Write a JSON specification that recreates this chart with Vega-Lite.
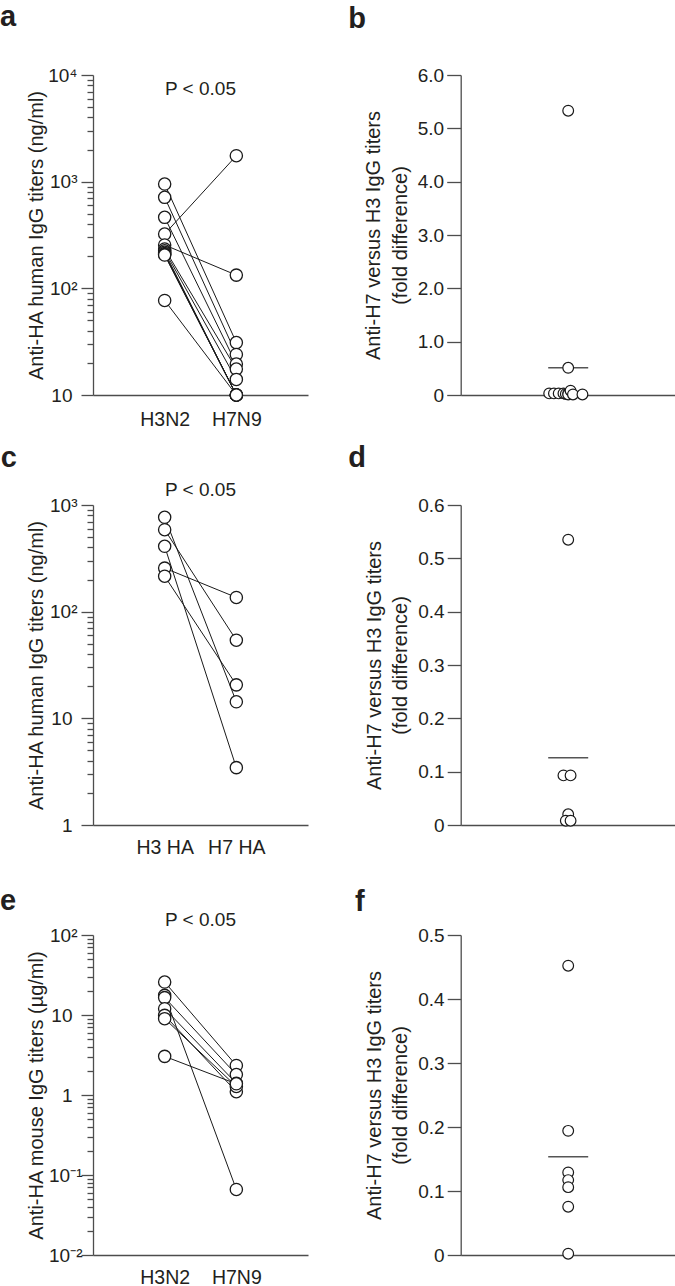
{
  "$schema": "https://vega.github.io/schema/vega-lite/v6.json",
  "padding": {"left": 0, "top": 2, "right": 0, "bottom": 0},
  "background": "white",
  "config": {
    "font": "Liberation Sans",
    "view": {"stroke": null},
    "axis": {
      "labelFont": "Liberation Sans", "titleFont": "Liberation Sans",
      "labelFontSize": 19, "titleFontSize": 20, "titleFontWeight": "normal",
      "labelColor": "#231f20", "titleColor": "#231f20",
      "domainColor": "#4d4d4d", "tickColor": "#4d4d4d",
      "domainWidth": 1.3, "tickWidth": 1.3, "grid": false,
      "labelOverlap": false, "labelBound": false, "labelFlush": false
    },
    "title": {"fontSize": 29, "fontWeight": "bold", "anchor": "start", "frame": "group", "baseline": "alphabetic", "color": "#231f20", "font": "Liberation Sans"}
  },
  "columns": 2,
  "spacing": {"row": 110, "column": 152.7},
  "bounds": "flush",
  "datasets": {
    "A": [
      {"s": 1, "g": "H3N2", "v": 950}, {"s": 1, "g": "H7N9", "v": 31},
      {"s": 2, "g": "H3N2", "v": 713}, {"s": 2, "g": "H7N9", "v": 24},
      {"s": 3, "g": "H3N2", "v": 463}, {"s": 3, "g": "H7N9", "v": 19.5},
      {"s": 4, "g": "H3N2", "v": 323}, {"s": 4, "g": "H7N9", "v": 1750},
      {"s": 5, "g": "H3N2", "v": 255}, {"s": 5, "g": "H7N9", "v": 133},
      {"s": 6, "g": "H3N2", "v": 234}, {"s": 6, "g": "H7N9", "v": 17.5},
      {"s": 7, "g": "H3N2", "v": 225}, {"s": 7, "g": "H7N9", "v": 14},
      {"s": 8, "g": "H3N2", "v": 218}, {"s": 8, "g": "H7N9", "v": 10},
      {"s": 9, "g": "H3N2", "v": 212}, {"s": 9, "g": "H7N9", "v": 10},
      {"s": 10, "g": "H3N2", "v": 208}, {"s": 10, "g": "H7N9", "v": 10},
      {"s": 11, "g": "H3N2", "v": 205}, {"s": 11, "g": "H7N9", "v": 10},
      {"s": 12, "g": "H3N2", "v": 77}, {"s": 12, "g": "H7N9", "v": 10}
    ],
    "PA": [{"g": "", "v": 6500, "t": "P < 0.05"}],
    "B": [
      {"g": "r", "v": 5.33, "j": 0}, {"g": "r", "v": 0.51, "j": 0},
      {"g": "r", "v": 0.03, "j": -8}, {"g": "r", "v": 0.03, "j": -6},
      {"g": "r", "v": 0.03, "j": -4}, {"g": "r", "v": 0.03, "j": -2},
      {"g": "r", "v": 0.02, "j": -1}, {"g": "r", "v": 0.03, "j": 0},
      {"g": "r", "v": 0.01, "j": 0}, {"g": "r", "v": 0.08, "j": 1},
      {"g": "r", "v": 0.01, "j": 2}, {"g": "r", "v": 0.01, "j": 6}
    ],
    "C": [
      {"s": 1, "g": "H3 HA", "v": 767}, {"s": 1, "g": "H7 HA", "v": 14.3},
      {"s": 2, "g": "H3 HA", "v": 587}, {"s": 2, "g": "H7 HA", "v": 54},
      {"s": 3, "g": "H3 HA", "v": 410}, {"s": 3, "g": "H7 HA", "v": 3.45},
      {"s": 4, "g": "H3 HA", "v": 256}, {"s": 4, "g": "H7 HA", "v": 136},
      {"s": 5, "g": "H3 HA", "v": 215}, {"s": 5, "g": "H7 HA", "v": 20.6}
    ],
    "PC": [{"g": "", "v": 1222, "t": "P < 0.05"}],
    "D": [
      {"g": "r", "v": 0.535, "j": 0}, {"g": "r", "v": 0.093, "j": -2},
      {"g": "r", "v": 0.093, "j": 1}, {"g": "r", "v": 0.02, "j": 0},
      {"g": "r", "v": 0.008, "j": -1}, {"g": "r", "v": 0.008, "j": 1}
    ],
    "E": [
      {"s": 1, "g": "H3N2", "v": 25.8}, {"s": 1, "g": "H7N9", "v": 2.34},
      {"s": 2, "g": "H3N2", "v": 17.6}, {"s": 2, "g": "H7N9", "v": 0.066},
      {"s": 3, "g": "H3N2", "v": 16.5}, {"s": 3, "g": "H7N9", "v": 1.8},
      {"s": 4, "g": "H3N2", "v": 12.0}, {"s": 4, "g": "H7N9", "v": 1.4},
      {"s": 5, "g": "H3N2", "v": 9.9}, {"s": 5, "g": "H7N9", "v": 1.1},
      {"s": 6, "g": "H3N2", "v": 9.0}, {"s": 6, "g": "H7N9", "v": 1.28},
      {"s": 7, "g": "H3N2", "v": 3.04}, {"s": 7, "g": "H7N9", "v": 1.38}
    ],
    "PE": [{"g": "", "v": 128, "t": "P < 0.05"}],
    "F": [
      {"g": "r", "v": 0.452, "j": 0}, {"g": "r", "v": 0.194, "j": 0},
      {"g": "r", "v": 0.129, "j": 0}, {"g": "r", "v": 0.117, "j": 0},
      {"g": "r", "v": 0.106, "j": 0}, {"g": "r", "v": 0.0755, "j": 0},
      {"g": "r", "v": 0.002, "j": 0}
    ]
  },
  "concat": [
    {
      "width": 215, "height": 320,
      "title": {"text": "a", "dx": -93, "offset": 34.5},
      "layer": [
        {
          "data": {"name": "A"},
          "mark": {"type": "line", "color": "#1a1a1a", "strokeWidth": 1},
          "encoding": {
            "x": {"field": "g", "type": "nominal", "scale": {"type": "point", "domain": [" ", "H3N2", "", "H7N9", "  "], "padding": 1},
                  "axis": {"values": ["H3N2", "H7N9"], "ticks": false, "labelPadding": 15, "title": null, "labelFontSize": 19.5, "labelAngle": 0}},
            "y": {"field": "v", "type": "quantitative", "scale": {"type": "log", "domain": [10, 10000], "nice": false},
                  "axis": {"values": [10,20,30,40,50,60,70,80,90,100,200,300,400,500,600,700,800,900,1000,2000,3000,4000,5000,6000,7000,8000,9000,10000],
                           "labelExpr": "datum.value == 10 ? '10' : datum.value == 100 ? '10²' : datum.value == 1000 ? '10³' : datum.value == 10000 ? '10⁴' : ''",
                           "tickSize": {"condition": {"test": "abs(log(datum.value)/LN10 - round(log(datum.value)/LN10)) < 0.000001", "value": 12}, "value": 6},
                           "labelPadding": {"condition": {"test": "datum.value > 50", "value": 4}, "value": 9},
                           "titleX": -47,
                           "title": "Anti-HA human IgG titers (ng/ml)"}},
            "detail": {"field": "s"}
          }
        },
        {
          "data": {"name": "A"},
          "mark": {"type": "circle", "fill": "white", "stroke": "#1a1a1a", "strokeWidth": 1.3, "size": 150, "opacity": 1},
          "encoding": {"x": {"field": "g", "type": "nominal"}, "y": {"field": "v", "type": "quantitative"}}
        },
        {
          "data": {"name": "PA"},
          "mark": {"type": "text", "fontSize": 19, "color": "#231f20", "baseline": "alphabetic", "align": "center"},
          "encoding": {"x": {"field": "g", "type": "nominal"}, "y": {"field": "v", "type": "quantitative"}, "text": {"field": "t"}}
        }
      ]
    },
    {
      "width": 215, "height": 320,
      "title": {"text": "b", "dx": -112.4, "offset": 32},
      "data": {"name": "B"},
      "layer": [
        {
          "mark": {"type": "tick", "color": "#555555", "thickness": 1.5, "size": 40},
          "encoding": {
            "x": {"field": "g", "type": "nominal", "scale": {"type": "point", "padding": 0.5}, "axis": {"title": null, "labels": false, "ticks": false}},
            "y": {"aggregate": "mean", "field": "v", "type": "quantitative", "scale": {"domain": [0, 6], "nice": false},
                  "axis": {"values": [0,1,2,3,4,5,6], "labelExpr": "datum.value == 0 ? '0' : format(datum.value, '.1f')",
                           "tickSize": 14, "labelPadding": 3, "titlePadding": 7, "titleLineHeight": 26.5,
                           "title": ["Anti-H7 versus H3 IgG titers", "(fold difference)"]}}
          }
        },
        {
          "mark": {"type": "circle", "fill": "white", "stroke": "#1a1a1a", "strokeWidth": 1.2, "size": 115, "opacity": 1},
          "encoding": {
            "x": {"field": "g", "type": "nominal"},
            "xOffset": {"field": "j", "type": "quantitative", "scale": {"domain": [-8, 8], "range": [-19, 19]}},
            "y": {"field": "v", "type": "quantitative"}
          }
        }
      ]
    },
    {
      "width": 215, "height": 320,
      "title": {"text": "c", "dx": -92.3, "offset": 8.1},
      "layer": [
        {
          "data": {"name": "C"},
          "mark": {"type": "line", "color": "#1a1a1a", "strokeWidth": 1},
          "encoding": {
            "x": {"field": "g", "type": "nominal", "scale": {"type": "point", "domain": [" ", "H3 HA", "", "H7 HA", "  "], "padding": 1},
                  "axis": {"values": ["H3 HA", "H7 HA"], "ticks": false, "labelPadding": 13, "title": null, "labelFontSize": 19.5, "labelAngle": 0}},
            "y": {"field": "v", "type": "quantitative", "scale": {"type": "log", "domain": [1, 1000], "nice": false},
                  "axis": {"values": [1,2,3,4,5,6,7,8,9,10,20,30,40,50,60,70,80,90,100,200,300,400,500,600,700,800,900,1000],
                           "labelExpr": "datum.value == 1 ? '1' : datum.value == 10 ? '10' : datum.value == 100 ? '10²' : datum.value == 1000 ? '10³' : ''",
                           "tickSize": {"condition": {"test": "abs(log(datum.value)/LN10 - round(log(datum.value)/LN10)) < 0.000001", "value": 12}, "value": 6},
                           "labelPadding": {"condition": {"test": "datum.value > 50", "value": 4}, "value": 9},
                           "titleX": -47,
                           "title": "Anti-HA human IgG titers (ng/ml)"}},
            "detail": {"field": "s"}
          }
        },
        {
          "data": {"name": "C"},
          "mark": {"type": "circle", "fill": "white", "stroke": "#1a1a1a", "strokeWidth": 1.3, "size": 150, "opacity": 1},
          "encoding": {"x": {"field": "g", "type": "nominal"}, "y": {"field": "v", "type": "quantitative"}}
        },
        {
          "data": {"name": "PC"},
          "mark": {"type": "text", "fontSize": 19, "color": "#231f20", "baseline": "alphabetic", "align": "center"},
          "encoding": {"x": {"field": "g", "type": "nominal"}, "y": {"field": "v", "type": "quantitative"}, "text": {"field": "t"}}
        }
      ]
    },
    {
      "width": 215, "height": 320,
      "title": {"text": "d", "dx": -112.4, "offset": 22.9},
      "data": {"name": "D"},
      "layer": [
        {
          "mark": {"type": "tick", "color": "#555555", "thickness": 1.5, "size": 40},
          "encoding": {
            "x": {"field": "g", "type": "nominal", "scale": {"type": "point", "padding": 0.5}, "axis": {"title": null, "labels": false, "ticks": false}},
            "y": {"aggregate": "mean", "field": "v", "type": "quantitative", "scale": {"domain": [0, 0.6], "nice": false},
                  "axis": {"values": [0,0.1,0.2,0.3,0.4,0.5,0.6], "labelExpr": "datum.value == 0 ? '0' : format(datum.value, '.1f')",
                           "tickSize": 13.5, "labelPadding": 3, "titlePadding": 7, "titleLineHeight": 26.5,
                           "title": ["Anti-H7 versus H3 IgG titers", "(fold difference)"]}}
          }
        },
        {
          "mark": {"type": "circle", "fill": "white", "stroke": "#1a1a1a", "strokeWidth": 1.2, "size": 115, "opacity": 1},
          "encoding": {
            "x": {"field": "g", "type": "nominal"},
            "xOffset": {"field": "j", "type": "quantitative", "scale": {"domain": [-8, 8], "range": [-19, 19]}},
            "y": {"field": "v", "type": "quantitative"}
          }
        }
      ]
    },
    {
      "width": 215, "height": 320,
      "title": {"text": "e", "dx": -93, "offset": -4.7},
      "layer": [
        {
          "data": {"name": "E"},
          "mark": {"type": "line", "color": "#1a1a1a", "strokeWidth": 1},
          "encoding": {
            "x": {"field": "g", "type": "nominal", "scale": {"type": "point", "domain": [" ", "H3N2", "", "H7N9", "  "], "padding": 1},
                  "axis": {"values": ["H3N2", "H7N9"], "ticks": false, "labelPadding": 13, "title": null, "labelFontSize": 19.5, "labelAngle": 0}},
            "y": {"field": "v", "type": "quantitative", "scale": {"type": "log", "domain": [0.01, 100], "nice": false},
                  "axis": {"values": [0.01,0.02,0.03,0.04,0.05,0.06,0.07,0.08,0.09,0.1,0.2,0.3,0.4,0.5,0.6,0.7,0.8,0.9,1,2,3,4,5,6,7,8,9,10,20,30,40,50,60,70,80,90,100],
                           "labelExpr": "datum.value == 0.01 ? '10⁻²' : datum.value == 0.1 ? '10⁻¹' : datum.value == 1 ? '1' : datum.value == 10 ? '10' : datum.value == 100 ? '10²' : ''",
                           "tickSize": {"condition": {"test": "abs(log(datum.value)/LN10 - round(log(datum.value)/LN10)) < 0.000001", "value": 12}, "value": 6},
                           "labelPadding": {"condition": [{"test": "datum.value < 0.5", "value": -1}, {"test": "datum.value > 50", "value": 4}], "value": 9},
                           "titleX": -47,
                           "title": "Anti-HA mouse IgG titers (µg/ml)"}},
            "detail": {"field": "s"}
          }
        },
        {
          "data": {"name": "E"},
          "mark": {"type": "circle", "fill": "white", "stroke": "#1a1a1a", "strokeWidth": 1.3, "size": 150, "opacity": 1},
          "encoding": {"x": {"field": "g", "type": "nominal"}, "y": {"field": "v", "type": "quantitative"}}
        },
        {
          "data": {"name": "PE"},
          "mark": {"type": "text", "fontSize": 19, "color": "#231f20", "baseline": "alphabetic", "align": "center"},
          "encoding": {"x": {"field": "g", "type": "nominal"}, "y": {"field": "v", "type": "quantitative"}, "text": {"field": "t"}}
        }
      ]
    },
    {
      "width": 215, "height": 320,
      "title": {"text": "f", "dx": -105.7, "offset": 9.1},
      "data": {"name": "F"},
      "layer": [
        {
          "mark": {"type": "tick", "color": "#555555", "thickness": 1.5, "size": 40},
          "encoding": {
            "x": {"field": "g", "type": "nominal", "scale": {"type": "point", "padding": 0.5}, "axis": {"title": null, "labels": false, "ticks": false}},
            "y": {"aggregate": "mean", "field": "v", "type": "quantitative", "scale": {"domain": [0, 0.5], "nice": false},
                  "axis": {"values": [0,0.1,0.2,0.3,0.4,0.5], "labelExpr": "datum.value == 0 ? '0' : format(datum.value, '.1f')",
                           "tickSize": 13.5, "labelPadding": 3, "titlePadding": 7, "titleLineHeight": 26.5,
                           "title": ["Anti-H7 versus H3 IgG titers", "(fold difference)"]}}
          }
        },
        {
          "mark": {"type": "circle", "fill": "white", "stroke": "#1a1a1a", "strokeWidth": 1.2, "size": 115, "opacity": 1},
          "encoding": {
            "x": {"field": "g", "type": "nominal"},
            "xOffset": {"field": "j", "type": "quantitative", "scale": {"domain": [-8, 8], "range": [-19, 19]}},
            "y": {"field": "v", "type": "quantitative"}
          }
        }
      ]
    }
  ]
}
